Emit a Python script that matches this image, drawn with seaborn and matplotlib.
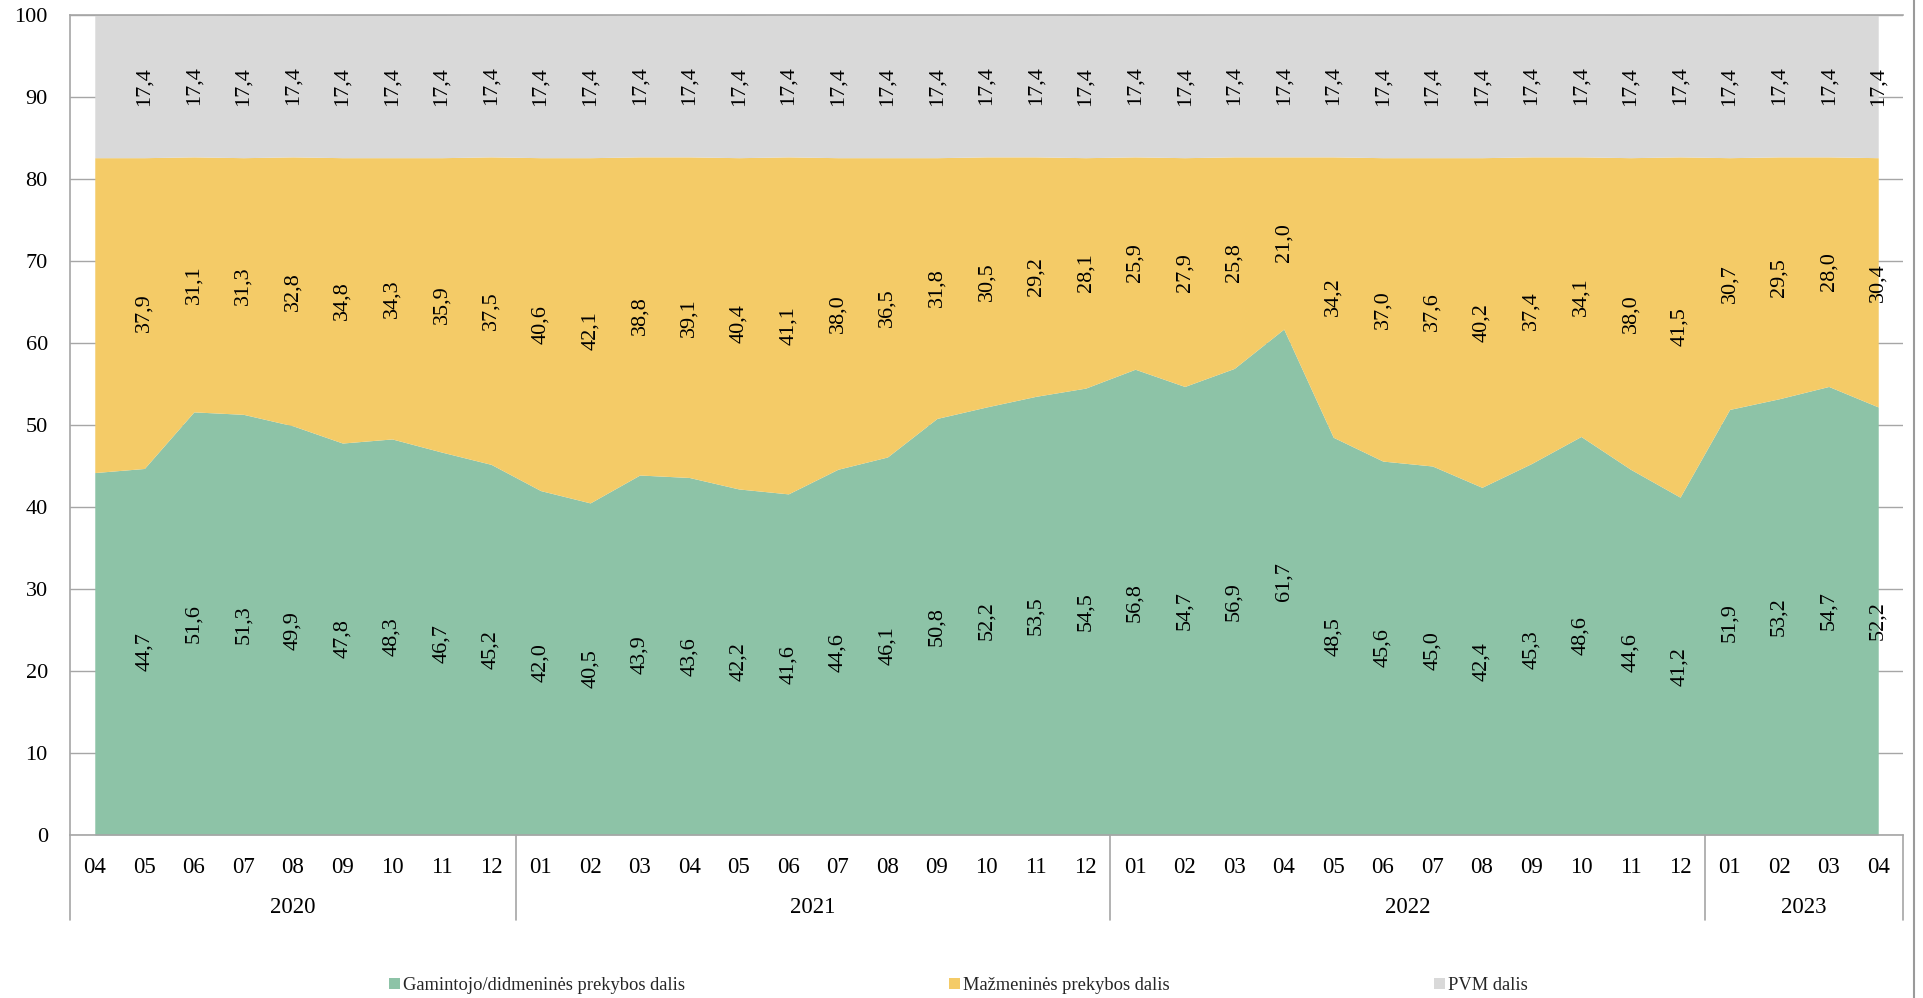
import numpy as np
import pandas as pd
import matplotlib
matplotlib.use("Agg")
import matplotlib.pyplot as plt
import matplotlib.transforms as mtransforms
from matplotlib.patches import Patch
from matplotlib.lines import Line2D
import seaborn as sns

# ---------------- data ----------------
months = ["04", "05", "06", "07", "08", "09", "10", "11", "12",
          "01", "02", "03", "04", "05", "06", "07", "08", "09", "10", "11", "12",
          "01", "02", "03", "04", "05", "06", "07", "08", "09", "10", "11", "12",
          "01", "02", "03", "04"]
years = ["2020", "2021", "2022", "2023"]
year_counts = [9, 12, 12, 4]

producer = [44.2, 44.7, 51.6, 51.3, 49.9, 47.8, 48.3, 46.7, 45.2,
            42.0, 40.5, 43.9, 43.6, 42.2, 41.6, 44.6, 46.1, 50.8, 52.2, 53.5, 54.5,
            56.8, 54.7, 56.9, 61.7, 48.5, 45.6, 45.0, 42.4, 45.3, 48.6, 44.6, 41.2,
            51.9, 53.2, 54.7, 52.2]
retail = [38.4, 37.9, 31.1, 31.3, 32.8, 34.8, 34.3, 35.9, 37.5,
          40.6, 42.1, 38.8, 39.1, 40.4, 41.1, 38.0, 36.5, 31.8, 30.5, 29.2, 28.1,
          25.9, 27.9, 25.8, 21.0, 34.2, 37.0, 37.6, 40.2, 37.4, 34.1, 38.0, 41.5,
          30.7, 29.5, 28.0, 30.4]
vat = [17.4] * 37

series_names = ["Gamintojo/didmeninės prekybos dalis", "Mažmeninės prekybos dalis", "PVM dalis"]
colors = ["#8DC3A7", "#F4CB67", "#D9D9D9"]
label_start = 1  # first month carries no data labels

# ---------------- style ----------------
sns.set_theme(style="white")
plt.rcParams["font.family"] = ["Liberation Serif", "DejaVu Serif"]
grid_col = "#A6A6A6"

fig = plt.figure(figsize=(19.24, 9.98), dpi=100)
ax = fig.add_axes([70 / 1924, 1 - 835 / 998, (1903 - 70) / 1924, 820 / 998])

x = np.arange(len(months))
df = pd.DataFrame({"x": x, "producer": producer, "retail": retail, "vat": vat})

ax.stackplot(df["x"], df["producer"], df["retail"], df["vat"],
             colors=colors, linewidth=0, zorder=2)

ax.set_xlim(-0.5, len(months) - 0.5)
ax.set_ylim(0, 100)
ax.set_yticks(np.arange(0, 101, 10))
ax.yaxis.grid(True, color=grid_col, linewidth=1.0, zorder=0)
ax.set_axisbelow(True)
ax.set_xticks(x)
ax.set_xticklabels(months)
ax.tick_params(axis="x", length=0, pad=16, labelsize=16.5, colors="black")
ax.tick_params(axis="y", length=0, pad=16, labelsize=16, colors="black")

for s in ["left", "bottom", "top"]:
    ax.spines[s].set_visible(True)
    ax.spines[s].set_color(grid_col)
    ax.spines[s].set_linewidth(1.2)
ax.spines["right"].set_visible(False)
ax.spines["top"].set_zorder(5)

# data labels
cum = np.zeros(len(months))
for vals in [producer, retail, vat]:
    v = np.array(vals)
    mids = cum + v / 2
    for i in range(label_start, len(months)):
        ax.text(x[i], mids[i], f"{v[i]:.1f}".replace(".", ","), rotation=90,
                ha="center", va="center", fontsize=16, color="black", zorder=6,
                clip_on=False)
    cum = cum + v

# year group separators and labels
trans = mtransforms.blended_transform_factory(ax.transData, ax.transAxes)
bounds = [-0.5]
for c in year_counts:
    bounds.append(bounds[-1] + c)
for b in bounds:
    ax.plot([b, b], [0, -0.104], transform=trans, color=grid_col, linewidth=1.2,
            clip_on=False, zorder=5)
for i, yr in enumerate(years):
    xc = (bounds[i] + bounds[i + 1]) / 2
    ax.text(xc, -0.088, yr, transform=trans, ha="center", va="center",
            fontsize=16.5, color="black")

# legend
handles = [Patch(facecolor=c, edgecolor="none") for c in colors]
fig.legend(handles, series_names, loc="center", bbox_to_anchor=(0.498, 0.0125),
           ncol=3, frameon=False, fontsize=13.3, handlelength=0.6, handleheight=0.6,
           handletextpad=0.15, columnspacing=14.3, borderpad=0, borderaxespad=0)

# right border line of the figure
fig.add_artist(Line2D([1914 / 1924, 1914 / 1924], [0, 1], transform=fig.transFigure,
                      color="#9A9A9A", linewidth=1.5))

fig.savefig("out.png", dpi=100)
